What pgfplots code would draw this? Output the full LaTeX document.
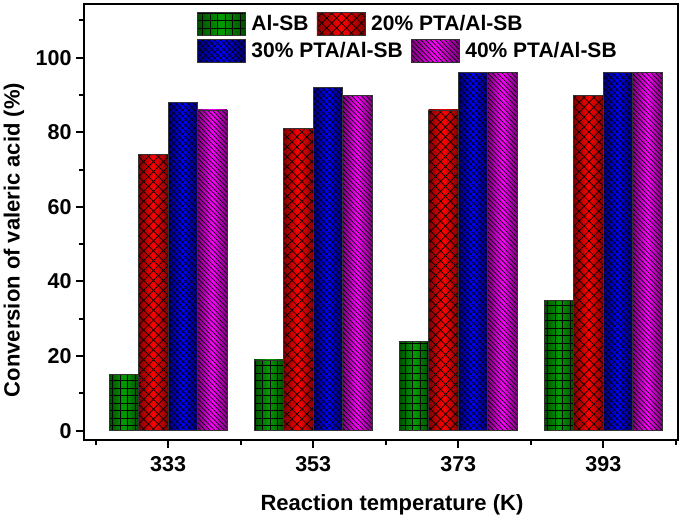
\documentclass[border=0pt]{standalone}
\usepackage{pgfplots}
\pgfplotsset{compat=1.18}
\usepackage{fontspec}
\setmainfont{Liberation Sans}
\usetikzlibrary{patterns.meta}
\newcommand\tlab{\fontsize{21.5}{24}\selectfont\bfseries}
\newcommand\alab{\fontsize{22}{25}\selectfont\bfseries}
\newcommand\llab{\fontsize{21}{24}\selectfont\bfseries}
\tikzset{
  shG/.style={draw=black!80, line width=0.6pt, left color=green!30!black, right color=green!30!black, middle color=green!62!black},
  shR/.style={draw=black!80, line width=0.6pt, left color=red!50!black, right color=red!50!black, middle color=red},
  shB/.style={draw=black!80, line width=0.6pt, left color=blue!45!black, right color=blue!45!black, middle color=blue},
  shM/.style={draw=black!80, line width=0.6pt, left color=magenta!50!black, right color=magenta!50!black, middle color=magenta},
  paG/.style={draw=black!80, line width=0.6pt, pattern={Hatch[angle=0,distance=7.5pt,line width=0.7pt]}, pattern color=black},
  paR/.style={draw=black!80, line width=0.6pt, pattern={Hatch[angle=45,distance=7pt,line width=0.7pt]}, pattern color=black},
  paB/.style={draw=black!80, line width=0.6pt, pattern={Hatch[angle=45,distance=4pt,line width=0.6pt]}, pattern color=black},
  paM/.style={draw=black!80, line width=0.6pt, pattern={Lines[angle=-45,distance=3.4pt,line width=0.7pt]}, pattern color=black},
}
\pgfplotsset{
  legimg/.style 2 args={legend image code/.code={\path[#1] (0pt,-11.5pt) rectangle (48pt,11.5pt); \path[#2] (0pt,-11.5pt) rectangle (48pt,11.5pt);}},
  mylegend/.style={
    legend style={draw=none, fill=none, inner sep=0pt, outer sep=0pt, anchor=north west,
      font=\llab, legend cell align=left,
      nodes={inner sep=0pt, outer sep=0pt},
      /tikz/every odd column/.style={column sep=6pt},
      /tikz/every even column/.style={column sep=8pt}},
    legend columns=2,
  },
  common/.style={
    scale only axis, width=594pt, height=436pt,
    xmin=321.4, xmax=403.3, ymin=-2.5, ymax=114.4,
  }
}
\begin{document}
\begin{tikzpicture}
\begin{axis}[common,
  ybar, bar width=29.5pt,
  mylegend,
  legend style={at={(axis description cs:0.190,0.9817)}},
  axis line style={line width=2.6pt},
  xtick={333,353,373,393}, minor xtick={323,343,363,383,403},
  ytick={0,20,40,60,80,100}, minor ytick={10,30,50,70,90,110},
  xtick pos=lower, ytick pos=left, tick align=outside,
  major tick length=8pt, minor tick length=5pt,
  every tick/.style={black, line width=2pt},
  /pgf/number format/assume math mode=true,
  ticklabel style={font=\tlab},
  xticklabel style={yshift=-5pt},
  yticklabel style={xshift=-1pt},
  xlabel={Reaction temperature (K)}, ylabel={Conversion of valeric acid (\%)},
  every axis x label/.style={at={(axis description cs:0.5,0)}, anchor=center, font=\alab, xshift=11pt, yshift=-65pt},
  every axis y label/.style={at={(axis description cs:0,0.5)}, anchor=center, rotate=90, font=\alab, xshift=-18pt, yshift=70pt},
  scaled ticks=false, xticklabel={\pgfmathprintnumber[fixed,precision=0]{\tick}},
]
% shaded bars, one per path
\addplot[shG, forget plot, bar shift=-44.25pt] coordinates {(333,15)};
\addplot[shG, forget plot, bar shift=-44.25pt] coordinates {(353,19)};
\addplot[shG, forget plot, bar shift=-44.25pt] coordinates {(373,24)};
\addplot[shG, forget plot, bar shift=-44.25pt] coordinates {(393,35)};
\addplot[shR, forget plot, bar shift=-14.75pt] coordinates {(333,74)};
\addplot[shR, forget plot, bar shift=-14.75pt] coordinates {(353,81)};
\addplot[shR, forget plot, bar shift=-14.75pt] coordinates {(373,86)};
\addplot[shR, forget plot, bar shift=-14.75pt] coordinates {(393,90)};
\addplot[shB, forget plot, bar shift=14.75pt] coordinates {(333,88)};
\addplot[shB, forget plot, bar shift=14.75pt] coordinates {(353,92)};
\addplot[shB, forget plot, bar shift=14.75pt] coordinates {(373,96)};
\addplot[shB, forget plot, bar shift=14.75pt] coordinates {(393,96)};
\addplot[shM, forget plot, bar shift=44.25pt] coordinates {(333,86)};
\addplot[shM, forget plot, bar shift=44.25pt] coordinates {(353,90)};
\addplot[shM, forget plot, bar shift=44.25pt] coordinates {(373,96)};
\addplot[shM, forget plot, bar shift=44.25pt] coordinates {(393,96)};
% pattern overlays
\addplot[paG, forget plot, bar shift=-44.25pt] coordinates {(333,15) (353,19) (373,24) (393,35)};
\addplot[paR, forget plot, bar shift=-14.75pt] coordinates {(333,74) (353,81) (373,86) (393,90)};
\addplot[paB, forget plot, bar shift=14.75pt] coordinates {(333,88) (353,92) (373,96) (393,96)};
\addplot[paM, forget plot, bar shift=44.25pt] coordinates {(333,86) (353,90) (373,96) (393,96)};
\addlegendimage{legimg={shG}{paG}}
\addlegendentry{Al-SB}
\addlegendimage{legimg={shR}{paR}}
\addlegendentry{20\% PTA/Al-SB}
\end{axis}
\begin{axis}[common, hide axis, mylegend,
  legend style={at={(axis description cs:0.190,0.9197)}}]
\addlegendimage{legimg={shB}{paB}}
\addlegendentry{30\% PTA/Al-SB}
\addlegendimage{legimg={shM}{paM}}
\addlegendentry{40\% PTA/Al-SB}
\end{axis}
\pgfresetboundingbox
\path ([xshift=-84pt,yshift=-83pt]current axis.south west) rectangle ([xshift=7pt,yshift=4pt]current axis.north east);
\end{tikzpicture}
\end{document}
